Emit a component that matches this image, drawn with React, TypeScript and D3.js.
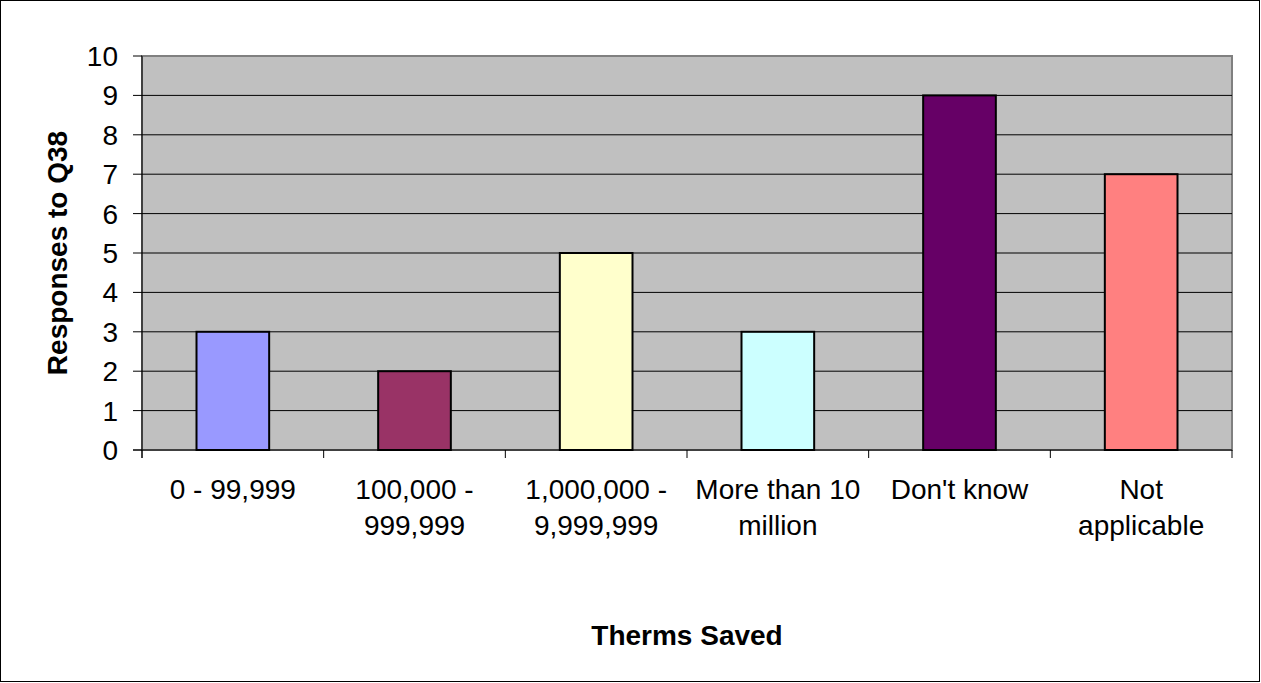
import React from "react";
import * as d3 from "d3";

const categories: string[][] = [
  ["0 - 99,999"],
  ["100,000 -", "999,999"],
  ["1,000,000 -", "9,999,999"],
  ["More than 10", "million"],
  ["Don't know"],
  ["Not", "applicable"],
];
const values: number[] = [3, 2, 5, 3, 9, 7];
const colors: string[] = ["#9999FF", "#993366", "#FFFFCC", "#CCFFFF", "#660066", "#FF8080"];
const yTicks: number[] = [0, 1, 2, 3, 4, 5, 6, 7, 8, 9, 10];
const yLabel = "Responses to Q38";
const xLabel = "Therms Saved";

export default function App() {
  const W = 1261, H = 683;
  const left = 142, right = 1232, top = 56, bottom = 450;
  const x = d3.scaleBand<number>().domain(d3.range(categories.length)).range([left, right]).paddingInner(0.6).paddingOuter(0.3);
  const xOuter = d3.scaleBand<number>().domain(d3.range(categories.length)).range([left, right]);
  const y = d3.scaleLinear().domain([0, 10]).range([bottom, top]);
  const font = "Arial, 'Liberation Sans', sans-serif";
  return (
    <svg width={W} height={H} style={{ position: "absolute", left: 0, top: 0 }} fontFamily={font}>
      <rect x={0.5} y={0.5} width={W - 2} height={H - 2} fill="white" stroke="#000" strokeWidth={1} />
      <rect x={left} y={top} width={right - left} height={bottom - top} fill="#C0C0C0" stroke="#808080" strokeWidth={2} />
      {yTicks.filter(t => t > 0 && t < 10).map(t => (
        <line key={t} x1={left} x2={right} y1={y(t)} y2={y(t)} stroke="#000" strokeWidth={1} />
      ))}
      {values.map((v, i) => (
        <rect key={i} x={x(i)!} y={y(v)} width={x.bandwidth()} height={y(0) - y(v)} fill={colors[i]} stroke="#000" strokeWidth={2} />
      ))}
      <line x1={left} x2={left} y1={top} y2={bottom + 8} stroke="#000" strokeWidth={1} />
      <line x1={left - 9} x2={right} y1={bottom} y2={bottom} stroke="#000" strokeWidth={1} />
      {yTicks.map(t => (
        <g key={t}>
          <line x1={left - 9} x2={left} y1={y(t)} y2={y(t)} stroke="#000" />
          <text x={118} y={y(t)} dy="0.36em" textAnchor="end" fontSize={28}>{t}</text>
        </g>
      ))}
      {d3.range(categories.length + 1).map(i => {
        const xx = i < categories.length ? xOuter(i)! : right;
        return <line key={i} x1={xx} x2={xx} y1={bottom} y2={bottom + 8} stroke="#000" />;
      })}
      {categories.map((lines, i) => (
        <text key={i} x={xOuter(i)! + xOuter.bandwidth() / 2} y={499} textAnchor="middle" fontSize={28}>
          {lines.map((l, j) => (
            <tspan key={j} x={xOuter(i)! + xOuter.bandwidth() / 2} dy={j === 0 ? 0 : 36}>{l}</tspan>
          ))}
        </text>
      ))}
      <text transform={`translate(67,${(top + bottom) / 2}) rotate(-90)`} textAnchor="middle" fontSize={28} fontWeight="bold">{yLabel}</text>
      <text x={(left + right) / 2} y={645} textAnchor="middle" fontSize={28} fontWeight="bold">{xLabel}</text>
    </svg>
  );
}
